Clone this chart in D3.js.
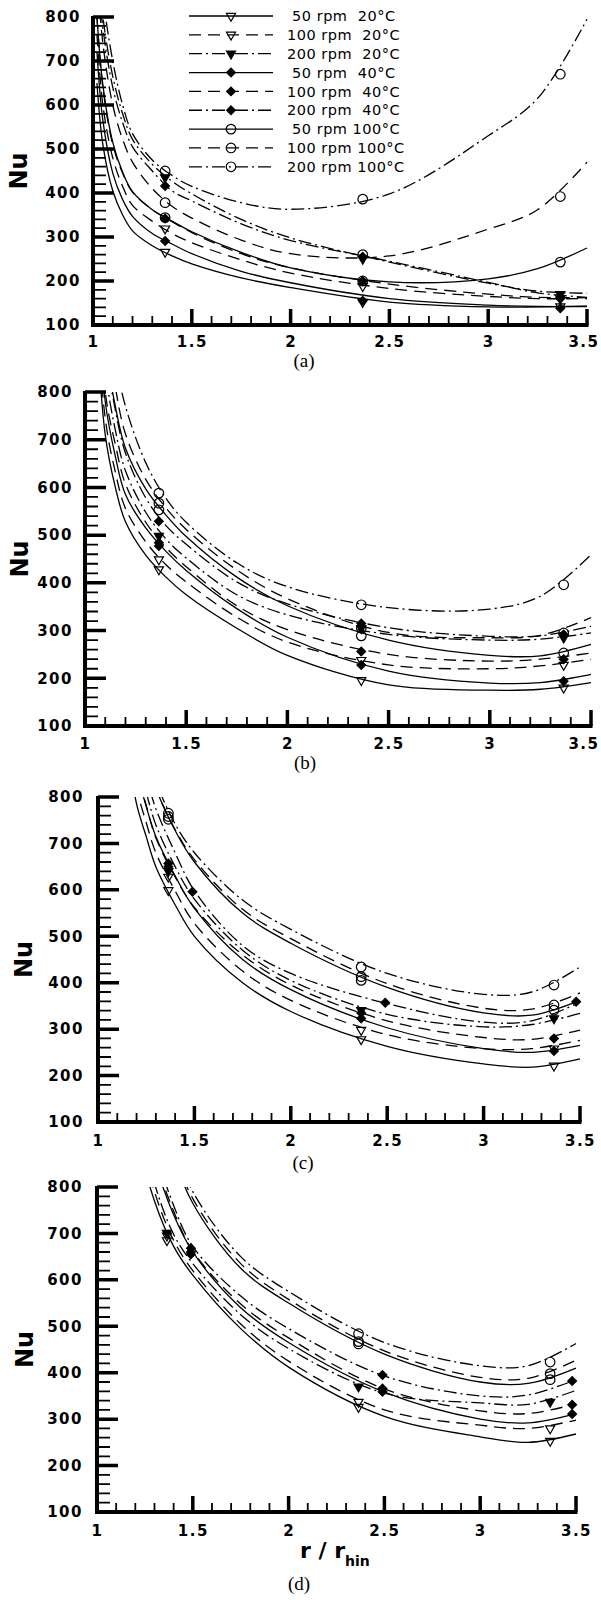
<!DOCTYPE html>
<html>
<head>
<meta charset="utf-8">
<script src="https://cdnjs.cloudflare.com/ajax/libs/d3/7.8.5/d3.min.js"></script>
<style>
  body { margin: 0; background: #fff; }
  .tick text { font-family: "DejaVu Sans", sans-serif; font-weight: bold; font-size: 15px; letter-spacing: 1.5px; fill: #000; }
</style>
</head>
<body>
<script>
// ---------------- data ----------------
// series order: 50/100/200 rpm at 20, 40, 100 °C
const seriesNames = [" 50 rpm  20°C", "100 rpm  20°C", "200 rpm  20°C",
                     " 50 rpm  40°C", "100 rpm  40°C", "200 rpm  40°C",
                     " 50 rpm 100°C", "100 rpm 100°C", "200 rpm 100°C"];
const lineKinds   = ["solid", "dash", "dashdot", "solid", "dash", "dashdot", "solid", "dash", "dashdot"];
const markerKinds = ["triOpen", "triOpen", "triFilled", "diamond", "diamond", "diamond", "circle", "circle", "circle"];

const yTicks = [100, 200, 300, 400, 500, 600, 700, 800];
const xTicks = [1, 1.5, 2, 2.5, 3, 3.5];
const yMinor = d3.range(100, 801, 20);
const xMinor = d3.range(10, 36).map(d => d / 10);

// panel (a)
const gridA = [1.02, 1.05, 1.1, 1.15, 1.2, 1.3, 1.4, 1.5, 1.75, 2.0, 2.5, 3.0, 3.25, 3.5];
const curvesA = [
  [650, 510, 405, 350, 314, 280, 257, 239, 207, 185, 152, 141, 141, 143],
  [760, 600, 480, 415, 372, 336, 308, 287, 248, 218, 183, 165, 160, 160],
  [950, 800, 665, 580, 522, 465, 427, 398, 340, 298, 243, 195, 177, 172],
  [720, 565, 445, 385, 347, 308, 284, 262, 222, 196, 160, 145, 142, 142],
  [800, 640, 510, 445, 402, 362, 335, 310, 262, 230, 193, 170, 163, 162],
  [920, 775, 640, 560, 505, 450, 405, 382, 330, 292, 245, 197, 173, 163],
  [800, 645, 515, 447, 403, 362, 336, 312, 265, 230, 198, 205, 228, 275],
  [900, 740, 600, 522, 470, 410, 370, 343, 293, 262, 257, 318, 362, 470],
  [1050, 850, 700, 600, 535, 475, 440, 415, 378, 363, 398, 530, 615, 795]
];
const markXA = [
  [1.365, 2.365, 3.365], [1.365, 2.365, 3.365], [1.365, 2.365, 3.365],
  [1.365, 2.365, 3.365], [1.365, 2.365, 3.365], [1.365, 2.365, 3.365],
  [1.365, 2.365, 3.365], [1.365, 2.365, 3.365], [1.365, 2.365, 3.365]
];
const markYA = [
  [266, 152, 142], [319, 188, 160], [435, 250, 170],
  [291, 155, 138], [342, 200, 160], [416, 255, 162],
  [344, 200, 243], [378, 260, 392], [450, 386, 670]
];

// panel (b)
const gridB = [1.02, 1.05, 1.1, 1.15, 1.2, 1.3, 1.4, 1.5, 1.75, 2.0, 2.5, 3.0, 3.25, 3.5];
const curvesB = [
  [1400, 1000, 710, 600, 528, 458, 412, 375, 305, 248, 186, 175, 177, 191],
  [1450, 1050, 745, 632, 556, 486, 438, 402, 328, 276, 228, 220, 226, 240],
  [1600, 1200, 850, 720, 635, 548, 492, 452, 375, 333, 292, 280, 282, 295],
  [1500, 1100, 780, 665, 585, 515, 466, 426, 346, 286, 215, 190, 191, 208],
  [1550, 1150, 800, 690, 607, 527, 474, 434, 352, 302, 250, 236, 240, 253],
  [1700, 1250, 900, 762, 672, 578, 520, 481, 402, 356, 306, 288, 289, 309],
  [1700, 1250, 900, 770, 682, 597, 542, 497, 412, 352, 280, 248, 247, 271],
  [1800, 1300, 950, 810, 712, 617, 557, 512, 427, 367, 296, 285, 290, 327],
  [2000, 1500, 1050, 870, 770, 652, 577, 527, 442, 392, 348, 345, 372, 459]
];
const markXB = markXA;
const markYB = [
  [428, 196, 180], [449, 238, 228], [498, 305, 285],
  [477, 228, 194], [484, 256, 240], [529, 315, 292],
  [553, 289, 253], [567, 305, 295], [588, 354, 396]
];

// panel (c)
const gridC = [1.1, 1.15, 1.2, 1.25, 1.3, 1.4, 1.5, 1.75, 2.0, 2.5, 3.0, 3.25, 3.5];
const curvesC = [
  [1100, 920, 785, 715, 650, 568, 500, 400, 338, 263, 225, 218, 236],
  [1150, 960, 820, 745, 680, 598, 528, 425, 362, 288, 258, 258, 276],
  [1250, 1040, 890, 810, 740, 650, 580, 470, 405, 332, 305, 310, 334],
  [1200, 1000, 860, 780, 715, 630, 560, 450, 385, 303, 258, 250, 265],
  [1200, 1000, 860, 782, 712, 628, 562, 460, 395, 318, 282, 278, 298],
  [1300, 1080, 930, 845, 775, 680, 598, 480, 420, 355, 315, 318, 358],
  [1350, 1150, 1000, 900, 820, 728, 660, 550, 485, 390, 335, 330, 362],
  [1350, 1150, 1000, 900, 820, 730, 665, 558, 495, 398, 345, 343, 378],
  [1400, 1180, 1030, 920, 835, 742, 680, 578, 515, 420, 375, 380, 434]
];
const markXC = [
  [1.365, 2.365, 3.365], [1.365, 2.365, 3.365], [1.365, 2.365, 3.365],
  [1.365, 2.365, 3.365], [1.365, 2.365, 3.365], [1.49, 2.49, 3.48],
  [1.365, 2.365, 3.365], [1.365, 2.365, 3.365], [1.365, 2.365, 3.365]
];
const markYC = [
  [599, 278, 221], [628, 298, 258], [640, 341, 323],
  [657, 323, 253], [650, 335, 280], [596, 357, 359],
  [758, 405, 341], [752, 413, 352], [765, 434, 395]
];

// panel (d)
const gridD = [1.1, 1.2, 1.3, 1.4, 1.5, 1.75, 2.0, 2.5, 3.0, 3.25, 3.5];
const curvesD = [
  [1300, 930, 770, 672, 610, 495, 412, 306, 262, 250, 268],
  [1350, 960, 790, 685, 620, 505, 425, 320, 287, 280, 298],
  [1400, 990, 808, 698, 635, 525, 452, 356, 335, 332, 362],
  [1500, 1080, 860, 740, 660, 540, 465, 358, 300, 292, 312],
  [1520, 1100, 870, 748, 662, 548, 475, 365, 318, 312, 333],
  [1550, 1120, 890, 760, 672, 565, 495, 393, 350, 352, 385],
  [1900, 1350, 1040, 870, 765, 625, 550, 440, 380, 377, 410],
  [1950, 1380, 1055, 880, 775, 635, 558, 447, 390, 388, 427],
  [2000, 1410, 1075, 898, 790, 650, 575, 465, 415, 415, 463]
];
const markXD = [
  [1.365, 2.365, 3.365], [1.365, 2.365, 3.365], [1.365, 2.365, 3.365],
  [1.49, 2.49, 3.48], [1.49, 2.49, 3.48], [1.49, 2.49, 3.48],
  [1.365, 2.365, 3.365], [1.365, 2.365, 3.365], [1.365, 2.365, 3.365]
];
const markYD = [
  [685, 326, 253], [695, 337, 280], [701, 370, 337],
  [655, 359, 311], [660, 366, 331], [668, 395, 382],
  [null, 462, 385], [null, 467, 398], [null, 484, 423]
];

// ---------------- layout ----------------
const panels = [
  {key: "a", grid: gridA, curves: curvesA, mx: markXA, my: markYA, x0: 93, x1: 587, yt: 17,   yb: 325,  ylPad: 12, xlPad: 11, nuX: 18, label: "(a)", labX: 304, labY: 367},
  {key: "b", grid: gridB, curves: curvesB, mx: markXB, my: markYB, x0: 85, x1: 591, yt: 392,  yb: 726,  ylPad: 12, xlPad: 12, nuX: 19, label: "(b)", labX: 305, labY: 769},
  {key: "c", grid: gridC, curves: curvesC, mx: markXC, my: markYC, x0: 98, x1: 580, yt: 797,  yb: 1122, ylPad: 14, xlPad: 13, nuX: 23, label: "(c)", labX: 303, labY: 1169},
  {key: "d", grid: gridD, curves: curvesD, mx: markXD, my: markYD, x0: 97, x1: 576, yt: 1187, yb: 1512, ylPad: 14, xlPad: 13, nuX: 24, label: "(d)", labX: 299, labY: 1590}
];

const dashes = {solid: null, dash: "12,7", dashdot: "13,4,2,4"};

const svg = d3.select("body").append("svg")
  .attr("width", 601)
  .attr("height", 1602);

function drawMarker(sel, kind) {
  const base = sel.attr("transform");
  if (kind === "circle") {
    sel.attr("d", d3.symbol(d3.symbolCircle, 72)())
      .attr("fill", "none");
  } else if (kind === "diamond") {
    sel.attr("d", d3.symbol(d3.symbolSquare, 38)())
      .attr("fill", "#000")
      .attr("transform", base + " rotate(45)");
  } else {
    sel.attr("d", d3.symbol(d3.symbolTriangle, 36)())
      .attr("fill", kind === "triFilled" ? "#000" : "none")
      .attr("transform", base + " rotate(180)");
  }
  sel.attr("stroke", "#000").attr("stroke-width", 1.2);
}

panels.forEach(p => {
  const x = d3.scaleLinear().domain([1, 3.5]).range([p.x0, p.x1]);
  const y = d3.scaleLinear().domain([100, 800]).range([p.yb, p.yt]);

  svg.append("clipPath").attr("id", "clip" + p.key)
    .append("rect")
    .attr("x", p.x0).attr("y", p.yt)
    .attr("width", p.x1 - p.x0 + 2).attr("height", p.yb - p.yt);

  // curves
  const line = d3.line()
    .x(d => x(d[0]))
    .y(d => y(d[1]))
    .curve(d3.curveCatmullRom.alpha(0.5));

  const lines = svg.append("g").attr("clip-path", `url(#clip${p.key})`);
  p.curves.forEach((vals, i) => {
    lines.append("path")
      .datum(p.grid.map((v, j) => [v, vals[j]]))
      .attr("d", line)
      .attr("fill", "none")
      .attr("stroke", "#000")
      .attr("stroke-width", 1.3)
      .attr("stroke-dasharray", dashes[lineKinds[i]]);
  });

  // markers
  const marks = svg.append("g");
  p.my.forEach((vals, i) => {
    vals.forEach((v, j) => {
      if (v === null || v > 800) return;
      marks.append("path")
        .attr("transform", `translate(${x(p.mx[i][j])},${y(v)})`)
        .call(drawMarker, markerKinds[i]);
    });
  });

  // tick labels
  const g = svg.append("g");
  g.append("g").attr("transform", `translate(${p.x0},0)`)
    .call(d3.axisLeft(y).tickValues(yTicks).tickSize(0).tickPadding(p.ylPad).tickFormat(d3.format("d")))
    .call(a => a.select(".domain").remove());
  g.append("g").attr("transform", `translate(0,${p.yb})`)
    .call(d3.axisBottom(x).tickValues(xTicks).tickSize(0).tickPadding(p.xlPad).tickFormat(d => String(d)))
    .call(a => a.select(".domain").remove())
    .call(a => a.selectAll(".tick text").each(function(d) {
      const b = this.getBBox();
      const over = x(d) + b.x + b.width - 599;
      if (over > 0) d3.select(this).attr("x", -over);
    }));

  // inward ticks and axis lines, built from the scales
  const ax = svg.append("g");
  const tickPath = (d, w) => ax.append("path")
    .attr("d", d)
    .attr("fill", "none")
    .attr("stroke", "#000")
    .attr("stroke-width", w);
  tickPath(yMinor.map(v => `M${p.x0},${y(v)}h13`).join(""), 1.8);
  tickPath(yTicks.map(v => `M${p.x0},${y(v)}h21`).join(""), 3.5);
  tickPath(xMinor.map(v => `M${x(v)},${p.yb}v-9`).join(""), 1.8);
  tickPath(xTicks.map(v => `M${x(v)},${p.yb}v-16`).join(""), 3.5);
  tickPath(`M${p.x0},${p.yt - 1}V${p.yb + 2}`, 4);
  tickPath(`M${p.x0 - 2},${p.yb}H${p.x1 + 1.5}`, 4);

  // Nu label
  svg.append("text")
    .attr("transform", `translate(${p.nuX + 9},${(p.yt + p.yb) / 2}) rotate(-90)`)
    .attr("text-anchor", "middle")
    .style("font-family", "DejaVu Sans, sans-serif")
    .style("font-weight", "bold")
    .style("font-size", "24px")
    .text("Nu");

  // panel letter
  svg.append("text")
    .attr("x", p.labX).attr("y", p.labY)
    .attr("text-anchor", "middle")
    .style("font-family", "Liberation Serif, serif")
    .style("font-size", "19px")
    .text(p.label);
});

// x axis title under (d)
const xt = svg.append("text")
  .attr("x", 300).attr("y", 1558)
  .style("font-family", "DejaVu Sans, sans-serif")
  .style("font-weight", "bold")
  .style("font-size", "22px");
xt.append("tspan").text("r / r");
xt.append("tspan").attr("dy", 8).style("font-size", "14px").text("hin");

// legend inside (a)
const leg = svg.append("g");
seriesNames.forEach((name, i) => {
  const ry = 16 + i * 18.85;
  leg.append("path")
    .attr("d", d3.line()([[189, ry], [273, ry]]))
    .attr("stroke", "#000")
    .attr("stroke-width", 1.3)
    .attr("stroke-dasharray", dashes[lineKinds[i]]);
  leg.append("path")
    .attr("transform", `translate(231,${ry})`)
    .call(drawMarker, markerKinds[i]);
  leg.append("text")
    .attr("x", 287).attr("y", ry)
    .attr("dy", "0.36em")
    .style("white-space", "pre")
    .style("font-family", "DejaVu Sans, sans-serif")
    .style("font-size", "14.5px")
    .style("letter-spacing", "0.5px")
    .text(name);
});
</script>
</body>
</html>
